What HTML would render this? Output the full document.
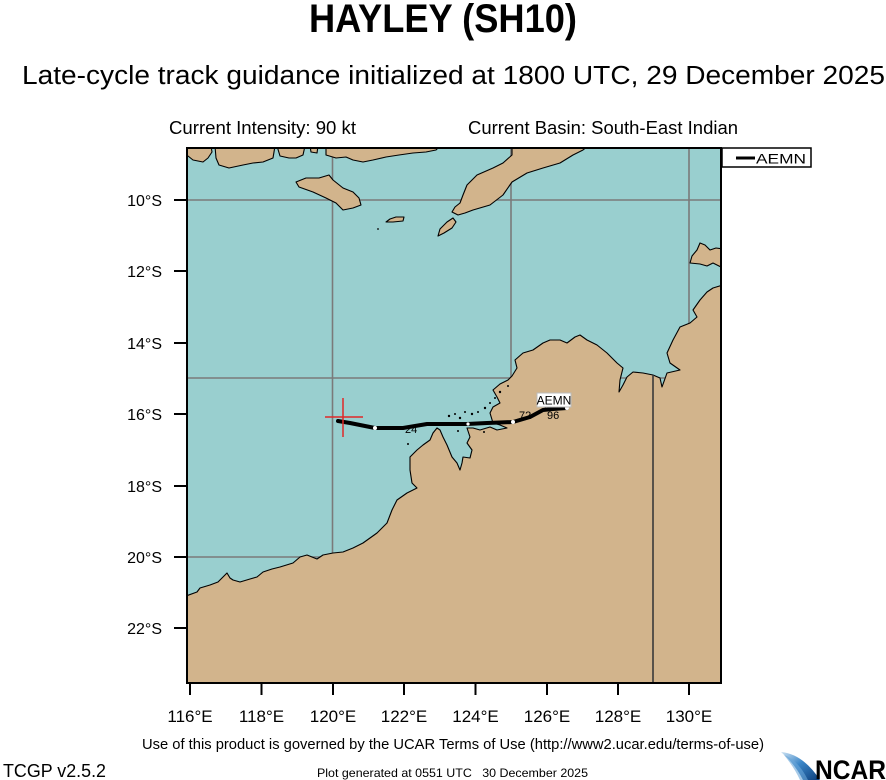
<!DOCTYPE html>
<html>
<head>
<meta charset="utf-8">
<style>
html,body{margin:0;padding:0;background:#fff;}
svg{display:block;}
text{font-family:"Liberation Sans",Arial,sans-serif;fill:#000;}
</style>
</head>
<body>
<svg width="886" height="780" viewBox="0 0 886 780" xmlns="http://www.w3.org/2000/svg">
<defs>
<clipPath id="plot"><rect x="187" y="148" width="534" height="535"/></clipPath>
<linearGradient id="sw" x1="0" y1="0" x2="1" y2="1">
<stop offset="0" stop-color="#cfe3f3"/>
<stop offset="0.45" stop-color="#3a86c8"/>
<stop offset="1" stop-color="#0b3d7a"/>
</linearGradient>
</defs>

<!-- Titles -->
<text x="443" y="32" font-size="40" font-weight="bold" text-anchor="middle" textLength="268" lengthAdjust="spacingAndGlyphs">HAYLEY (SH10)</text>
<text x="22" y="84" font-size="25.5" textLength="863" lengthAdjust="spacingAndGlyphs">Late-cycle track guidance initialized at 1800 UTC, 29 December 2025</text>
<text x="169" y="134" font-size="18" textLength="187" lengthAdjust="spacingAndGlyphs">Current Intensity: 90 kt</text>
<text x="468" y="134" font-size="18" textLength="270" lengthAdjust="spacingAndGlyphs">Current Basin: South-East Indian</text>

<!-- Map -->
<g clip-path="url(#plot)">
<rect x="187" y="148" width="534" height="535" fill="#99cfcf"/>
<g stroke="#7a7a7a" stroke-width="1.6">
<line x1="332.5" y1="148" x2="332.5" y2="683"/>
<line x1="511" y1="148" x2="511" y2="683"/>
<line x1="689" y1="148" x2="689" y2="683"/>
<line x1="187" y1="200" x2="721" y2="200"/>
<line x1="187" y1="378" x2="721" y2="378"/>
<line x1="187" y1="557" x2="721" y2="557"/>
</g>
<g fill="#d2b48c" stroke="#000" stroke-width="1.1" stroke-linejoin="round">
<path d="M186,596 L197,592 L200,588 L210,585 L218,582 L224,576 L227,573 L230,578 L233,580 L240,582 L250,579 L257,577 L263,572 L272,569 L280,567 L293,563 L300,557 L307,555 L312,557 L317,559 L323,555 L333,553 L343,552 L353,548 L363,543 L377,533 L387,523 L392,510 L397,500 L407,493 L417,488 L412,483 L410,470 L410,457 L417,450 L423,445 L430,440 L433,433 L437,428 L440,430 L443,437 L447,445 L452,457 L457,463 L460,470 L462,463 L463,457 L470,458 L472,450 L467,443 L470,437 L467,428 L473,428 L480,430 L490,427 L497,430 L507,428 L500,425 L493,423 L490,413 L493,407 L500,403 L497,397 L493,390 L500,384 L508,380 L512,376 L517,368 L515,360 L523,353 L533,350 L543,343 L550,340 L560,340 L567,343 L575,337 L580,335 L587,340 L597,345 L607,353 L617,363 L623,368 L620,380 L619,392 L623,385 L627,377 L633,372 L643,373 L653,375 L660,378 L662,387 L667,373 L680,370 L670,363 L667,353 L673,340 L680,327 L690,323 L697,317 L693,310 L700,300 L707,292 L713,288 L723,285 L723,685 L185,685 Z"/>
<path d="M690,263 L692,256 L697,250 L700,243 L705,245 L710,250 L716,248 L723,249 L723,268 L713,263 L707,266 L700,264 Z"/>
<path d="M512,146 L512,155 L503,163 L493,168 L477,175 L467,185 L463,195 L460,203 L455,207 L452,212 L458,215 L465,213 L473,210 L490,205 L503,195 L512,182 L527,173 L543,168 L560,163 L573,155 L583,150 L588,146 Z"/>
<path d="M438,236 L440,229 L447,222 L453,218 L456,222 L452,228 L444,233 Z"/>
<path d="M296,182 L306,178 L319,178 L329,175 L333,180 L343,188 L353,192 L359,198 L361,205 L353,208 L343,210 L336,203 L326,198 L313,192 L299,187 Z"/>
<path d="M386,222 L390,219 L396,217 L404,217 L403,221 L393,222 Z"/>
<path d="M185,146 L211,146 L212,152 L208,158 L203,162 L193,160 L188,156 L185,155 Z"/>
<path d="M215,146 L275,146 L274,152 L273,158 L263,162 L253,163 L243,165 L229,168 L219,165 L216,158 Z"/>
<path d="M277,146 L305,146 L303,155 L296,158 L289,158 L280,156 Z"/>
<path d="M310,146 L318,146 L317,153 L311,152 Z"/>
<path d="M326,146 L440,146 L436,150 L426,152 L413,153 L399,155 L386,157 L373,160 L363,162 L353,160 L346,157 L336,158 L326,155 Z"/>
</g>
<g fill="#000">
<circle cx="378" cy="229" r="0.9"/>
<circle cx="449" cy="416" r="1.2"/><circle cx="455" cy="414" r="1"/><circle cx="460" cy="418" r="1.2"/>
<circle cx="465" cy="412" r="1"/><circle cx="472" cy="414" r="1.2"/><circle cx="478" cy="412" r="1"/>
<circle cx="485" cy="408" r="1.2"/><circle cx="490" cy="403" r="1"/><circle cx="495" cy="398" r="1"/>
<circle cx="500" cy="392" r="1.2"/><circle cx="508" cy="386" r="1"/><circle cx="458" cy="431" r="1"/>
<circle cx="408" cy="444" r="1"/><circle cx="484" cy="432" r="1"/>
</g>
<line x1="653" y1="375" x2="653" y2="683" stroke="#3a3a3a" stroke-width="1.6"/>
<polyline points="338,421 350,423 375,428 403,428 427,424 447,424 467,424 487,423 513,422 530,417 543,410 553,409 567,408" fill="none" stroke="#000" stroke-width="4" stroke-linejoin="round" stroke-linecap="round"/>
<g fill="#fff">
<circle cx="375" cy="428" r="2"/><circle cx="468" cy="424" r="1.6"/><circle cx="513" cy="422" r="2"/><circle cx="567" cy="408" r="2"/>
</g>
<g font-size="11" fill="#000">
<text x="405" y="433">24</text>
<text x="519" y="419">72</text>
<text x="542" y="409">120</text>
<text x="547" y="419">96</text>
</g>
<rect x="537" y="393" width="34" height="14" fill="#fff" stroke="#bbb" stroke-width="1"/>
<text x="554" y="404.5" font-size="12" text-anchor="middle">AEMN</text>
<g stroke="#e02828" stroke-width="1.5">
<line x1="325" y1="417" x2="363" y2="417"/>
<line x1="343" y1="398" x2="343" y2="437"/>
</g>
</g>
<rect x="187" y="148" width="534" height="535" fill="none" stroke="#000" stroke-width="2"/>

<g stroke="#000" stroke-width="2">
<line x1="174" y1="200" x2="187" y2="200"/>
<line x1="174" y1="271" x2="187" y2="271"/>
<line x1="174" y1="343" x2="187" y2="343"/>
<line x1="174" y1="414" x2="187" y2="414"/>
<line x1="174" y1="486" x2="187" y2="486"/>
<line x1="174" y1="557" x2="187" y2="557"/>
<line x1="174" y1="628" x2="187" y2="628"/>
</g>
<g font-size="16" text-anchor="end">
<text x="162" y="206">10°S</text>
<text x="162" y="277">12°S</text>
<text x="162" y="349">14°S</text>
<text x="162" y="420">16°S</text>
<text x="162" y="492">18°S</text>
<text x="162" y="563">20°S</text>
<text x="162" y="634">22°S</text>
</g>
<g stroke="#000" stroke-width="2">
<line x1="190" y1="683" x2="190" y2="695"/>
<line x1="261.5" y1="683" x2="261.5" y2="695"/>
<line x1="333" y1="683" x2="333" y2="695"/>
<line x1="404" y1="683" x2="404" y2="695"/>
<line x1="475.5" y1="683" x2="475.5" y2="695"/>
<line x1="547" y1="683" x2="547" y2="695"/>
<line x1="618" y1="683" x2="618" y2="695"/>
<line x1="689" y1="683" x2="689" y2="695"/>
</g>
<g font-size="17" text-anchor="middle">
<text x="190" y="722">116°E</text>
<text x="261.5" y="722">118°E</text>
<text x="333" y="722">120°E</text>
<text x="404" y="722">122°E</text>
<text x="475.5" y="722">124°E</text>
<text x="547" y="722">126°E</text>
<text x="618" y="722">128°E</text>
<text x="689" y="722">130°E</text>
</g>

<rect x="722" y="148" width="89" height="19" fill="#fff" stroke="#000" stroke-width="1.5"/>
<line x1="736" y1="158" x2="755" y2="158" stroke="#000" stroke-width="3"/>
<text x="756" y="163.5" font-size="14" textLength="50" lengthAdjust="spacingAndGlyphs">AEMN</text>

<text x="142" y="749" font-size="15" textLength="622" lengthAdjust="spacingAndGlyphs">Use of this product is governed by the UCAR Terms of Use (http://www2.ucar.edu/terms-of-use)</text>
<text x="3" y="777" font-size="18.5" textLength="103" lengthAdjust="spacingAndGlyphs">TCGP v2.5.2</text>
<text x="317" y="777" font-size="12" textLength="271" lengthAdjust="spacingAndGlyphs" xml:space="preserve">Plot generated at 0551 UTC   30 December 2025</text>

<path d="M781,752 Q803,754 820,780 L803,780 Q795,764 781,752 Z" fill="url(#sw)"/>
<path d="M784,755 Q798,760 808,780 L800,780 Q794,767 784,755 Z" fill="#6aa6d8" opacity="0.6"/>
<text x="815" y="779" font-size="27" font-weight="bold" fill="#111" textLength="71" lengthAdjust="spacingAndGlyphs">NCAR</text>
</svg>
</body>
</html>
